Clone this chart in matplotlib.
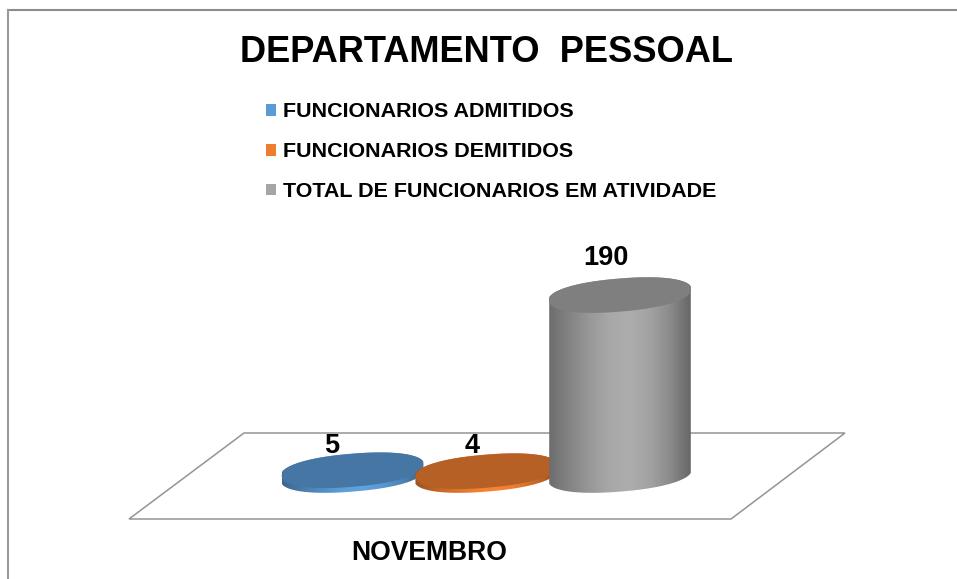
import numpy as np
import matplotlib
matplotlib.use("Agg")
import matplotlib.pyplot as plt
from matplotlib.patches import Polygon, Patch
from matplotlib.colors import to_rgb

title = "DEPARTAMENTO  PESSOAL"
category = "NOVEMBRO"
series_names = ["FUNCIONARIOS ADMITIDOS", "FUNCIONARIOS DEMITIDOS", "TOTAL DE FUNCIONARIOS EM ATIVIDADE"]
series_values = [5, 4, 190]
series_colors = ["#5B9BD5", "#ED7D31", "#A5A5A5"]

W, H = 957, 579
PX_PER_UNIT = 0.947      # pixels per value unit
PX_PER_POS = 133.75      # pixels between cylinders
X0_PX, Y0_PX = 352.5, 475
A, B, TILT = 71, 16.5, np.deg2rad(4.8)
ROUND = 0.9

plt.rcParams["font.family"] = ["Liberation Sans", "DejaVu Sans"]
fig = plt.figure(figsize=(W / 100, H / 100), dpi=100)
ax = fig.add_axes([0, 0, 1, 1])
xlim = (-X0_PX / PX_PER_POS, (W - X0_PX) / PX_PER_POS)
ylim = ((Y0_PX - H) / PX_PER_UNIT, Y0_PX / PX_PER_UNIT)
ax.set_axis_off()


def dx(px):
    return px / PX_PER_POS


def dy(px):
    return px / PX_PER_UNIT


def floor_xy(px_x, px_y):
    return (px_x - X0_PX) / PX_PER_POS, (Y0_PX - px_y) / PX_PER_UNIT


# floor plane
floor = [floor_xy(*p) for p in [(244, 433), (845, 433), (731, 519), (129, 519)]]
ax.add_patch(Polygon(floor, closed=True, fc="white", ec="#949494", lw=1.1, zorder=1))

t = np.linspace(0, 2 * np.pi, 961)
cx = A * np.sign(np.cos(t)) * np.abs(np.cos(t)) ** ROUND
cy = B * np.sign(np.sin(t)) * np.abs(np.sin(t)) ** ROUND
ex = cx * np.cos(TILT) - cy * np.sin(TILT)
ey = cx * np.sin(TILT) + cy * np.cos(TILT)

profile = np.array([0.66, 0.80, 0.92, 1.02, 1.05, 0.98, 0.84, 0.62])
grad_x = np.linspace(0, 1, len(profile))
fine_x = np.linspace(0, 1, 256)
shade = np.interp(fine_x, grad_x, profile)

label_positions = [(332, 446), (472, 446), (606, 258)]

for i, (val, col) in enumerate(zip(series_values, series_colors)):
    rgb = np.array(to_rgb(col))
    z = 3 + i
    xs = i + dx(ex)
    ytop = val + dy(ey)
    lo_x = np.linspace(ex.min(), ex.max(), 300)
    lower = []
    upper = []
    for xv in lo_x:
        m = np.abs(ex - xv) < 1.0
        lower.append(ey[m].min())
        upper.append(ey[m].max())
    lower = np.array(lower)
    upper = np.array(upper)
    body_x = np.r_[i + dx(lo_x), i + dx(lo_x[::-1])]
    body_y = np.r_[dy(lower), val + dy(upper[::-1])]
    poly = Polygon(np.c_[body_x, body_y], closed=True, fc="none", ec="none", zorder=z)
    ax.add_patch(poly)
    img = np.clip(shade[None, :, None] * rgb[None, None, :], 0, 1)
    im = ax.imshow(img, extent=(i + dx(ex.min()), i + dx(ex.max()), dy(lower.min()) - 5, val + dy(upper.max()) + 5),
                   origin="lower", aspect="auto", zorder=z, interpolation="bilinear")
    im.set_clip_path(poly)
    ax.fill(xs, ytop, fc=rgb * 0.77, ec="none", zorder=z + 0.5)
    lx, ly = floor_xy(*label_positions[i])
    ax.text(lx, ly, str(val), ha="center", va="center", fontsize=19.5, fontweight="bold", color="black", zorder=20)

fig.text(487 / W, 1 - 53 / H, title, ha="center", va="center", fontsize=26.1, fontweight="bold", color="black")
fig.text(429.5 / W, 1 - 553 / H, category, ha="center", va="center", fontsize=19.1, fontweight="bold", color="black")

handles = [Patch(fc=c, ec="none", label=n) for n, c in zip(series_names, series_colors)]
leg = ax.legend(handles=handles, loc="upper left", bbox_to_anchor=(259.6 / W, 1 - 96 / H), bbox_transform=fig.transFigure,
                frameon=False, ncol=1, prop={"size": 15.45, "weight": "bold"}, labelspacing=0.97,
                handlelength=0.47, handleheight=0.47, handletextpad=0.33, borderpad=0.3, borderaxespad=0)

# chart area frame edges
ax.plot(*zip(floor_xy(8, 10), floor_xy(957, 10)), color="#8c8c8c", lw=1.5, zorder=0)
ax.plot(*zip(floor_xy(8, 10), floor_xy(8, 579)), color="#9a9a9a", lw=1.5, zorder=0)
ax.set_xlim(*xlim)
ax.set_ylim(*ylim)

fig.savefig("out.png", dpi=100)
